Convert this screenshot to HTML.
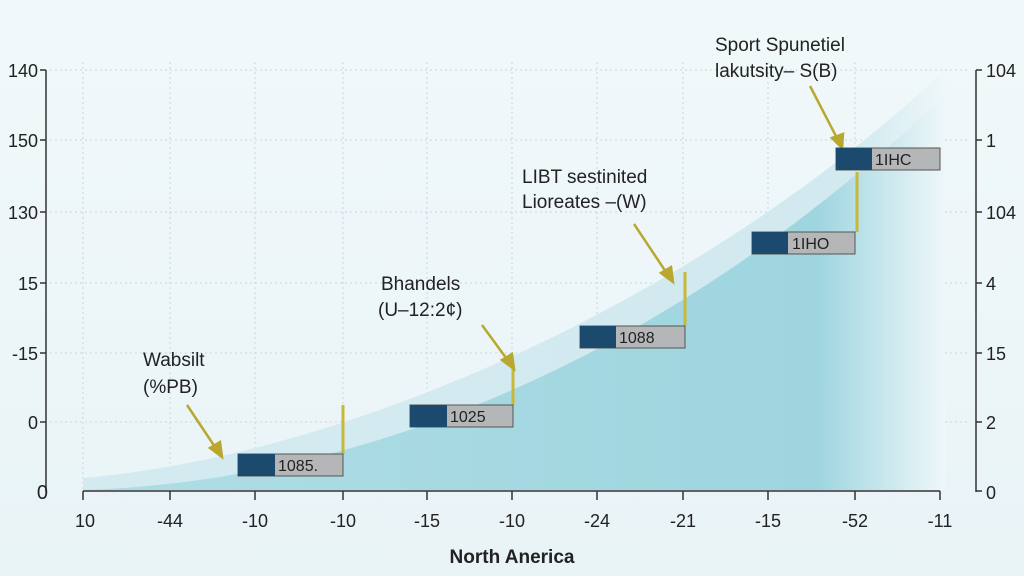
<!DOCTYPE html>
<html><head><style>body{margin:0;background:#eef6f8}svg{display:block}</style></head>
<body>
<svg width="1024" height="576" viewBox="0 0 1024 576" font-family="Liberation Sans, sans-serif">
<defs>
<linearGradient id="bg" x1="0" y1="0" x2="0" y2="1"><stop offset="0" stop-color="#f1f8fa"/><stop offset="1" stop-color="#e9f4f7"/></linearGradient>
<linearGradient id="fade" x1="0" y1="0" x2="1" y2="0"><stop offset="0" stop-color="#b0dde5"/><stop offset="0.85" stop-color="#9ed5df"/><stop offset="1" stop-color="#eef7f9"/></linearGradient>
<linearGradient id="fade2" x1="0" y1="0" x2="1" y2="0"><stop offset="0" stop-color="#d3ebf0"/><stop offset="0.9" stop-color="#d2eaef"/><stop offset="1" stop-color="#eef7f9"/></linearGradient>
</defs>
<rect width="1024" height="576" fill="url(#bg)"/>
<g stroke="#c9d6dc" stroke-dasharray="2 3" stroke-width="1">
<line x1="83" y1="62" x2="83" y2="490"/><line x1="170" y1="62" x2="170" y2="490"/><line x1="255" y1="62" x2="255" y2="490"/><line x1="343" y1="62" x2="343" y2="490"/><line x1="427" y1="62" x2="427" y2="490"/><line x1="512" y1="62" x2="512" y2="490"/><line x1="597" y1="62" x2="597" y2="490"/><line x1="683" y1="62" x2="683" y2="490"/><line x1="768" y1="62" x2="768" y2="490"/><line x1="855" y1="62" x2="855" y2="490"/>
<line x1="50" y1="70" x2="970" y2="70"/><line x1="50" y1="140" x2="970" y2="140"/><line x1="50" y1="212" x2="970" y2="212"/><line x1="50" y1="283" x2="970" y2="283"/><line x1="50" y1="353" x2="970" y2="353"/><line x1="50" y1="422" x2="970" y2="422"/>
</g>
<path d="M83 478 C 350 455, 700 300, 945 70 L 945 490 L 83 490 Z" fill="url(#fade2)"/>
<path d="M83 490 C 400 480, 700 330, 945 95 L 945 490 Z" fill="url(#fade)"/>
<g stroke="#333" stroke-width="1.5" fill="none">
<line x1="46" y1="70" x2="46" y2="492"/>
<line x1="40" y1="70" x2="46" y2="70"/><line x1="40" y1="140" x2="46" y2="140"/><line x1="40" y1="212" x2="46" y2="212"/><line x1="40" y1="283" x2="46" y2="283"/><line x1="40" y1="353" x2="46" y2="353"/><line x1="40" y1="422" x2="46" y2="422"/>
<line x1="83" y1="491" x2="940" y2="491"/>
<line x1="83" y1="491" x2="83" y2="500"/><line x1="170" y1="491" x2="170" y2="500"/><line x1="255" y1="491" x2="255" y2="500"/><line x1="343" y1="491" x2="343" y2="500"/><line x1="427" y1="491" x2="427" y2="500"/><line x1="512" y1="491" x2="512" y2="500"/><line x1="597" y1="491" x2="597" y2="500"/><line x1="683" y1="491" x2="683" y2="500"/><line x1="768" y1="491" x2="768" y2="500"/><line x1="855" y1="491" x2="855" y2="500"/><line x1="940" y1="491" x2="940" y2="500"/>
<line x1="976" y1="70" x2="976" y2="492"/>
<line x1="976" y1="70" x2="982" y2="70"/><line x1="976" y1="140" x2="982" y2="140"/><line x1="976" y1="212" x2="982" y2="212"/><line x1="976" y1="283" x2="982" y2="283"/><line x1="976" y1="353" x2="982" y2="353"/><line x1="976" y1="422" x2="982" y2="422"/><line x1="976" y1="491" x2="982" y2="491"/>
</g>
<g font-size="18" fill="#222" text-anchor="end">
<text x="38" y="77">140</text><text x="38" y="147">150</text><text x="38" y="219">130</text><text x="38" y="290">15</text><text x="38" y="360">-15</text><text x="38" y="429">0</text><text x="48" y="499" font-size="20">0</text>
</g>
<g font-size="18" fill="#222">
<text x="986" y="77">104</text><text x="986" y="147">1</text><text x="986" y="219">104</text><text x="986" y="290">4</text><text x="986" y="360">15</text><text x="986" y="429">2</text><text x="986" y="499">0</text>
</g>
<g font-size="18" fill="#222" text-anchor="middle">
<text x="85" y="527">10</text><text x="170" y="527">-44</text><text x="255" y="527">-10</text><text x="343" y="527">-10</text><text x="427" y="527">-15</text><text x="512" y="527">-10</text><text x="597" y="527">-24</text><text x="683" y="527">-21</text><text x="768" y="527">-15</text><text x="855" y="527">-52</text><text x="940" y="527">-11</text>
</g>
<text x="512" y="563" font-size="19" font-weight="bold" fill="#222" text-anchor="middle">North Anerica</text>
<g stroke="#c8b83a" stroke-width="3" fill="none">
<line x1="343" y1="405" x2="343" y2="454"/><line x1="513" y1="368" x2="513" y2="405"/><line x1="685" y1="272" x2="685" y2="326"/><line x1="857" y1="172" x2="857" y2="232"/>
</g>
<g stroke="#b8a830" stroke-width="2.5" fill="#b8a830">
<line x1="187" y1="405" x2="217" y2="450"/><polygon points="222,457 210,448 220,442"/>
<line x1="482" y1="325" x2="509" y2="362"/><polygon points="514,369 502,360 512,354"/>
<line x1="634" y1="224" x2="668" y2="275"/><polygon points="673,282 661,273 671,267"/>
<line x1="810" y1="86" x2="838" y2="140"/><polygon points="842,148 832,138 843,134"/>
</g>
<g font-size="16" fill="#222">
<rect x="238" y="454" width="105" height="22" fill="#b4b6b8" stroke="#555"/><rect x="238" y="454" width="37" height="22" fill="#1c4a6e"/><text x="278" y="471">1085.</text>
<rect x="410" y="405" width="103" height="22" fill="#b4b6b8" stroke="#555"/><rect x="410" y="405" width="37" height="22" fill="#1c4a6e"/><text x="450" y="422">1025</text>
<rect x="580" y="326" width="105" height="22" fill="#b4b6b8" stroke="#555"/><rect x="580" y="326" width="36" height="22" fill="#1c4a6e"/><text x="619" y="343">1088</text>
<rect x="752" y="232" width="103" height="22" fill="#b4b6b8" stroke="#555"/><rect x="752" y="232" width="36" height="22" fill="#1c4a6e"/><text x="792" y="249">1IHO</text>
<rect x="836" y="148" width="104" height="22" fill="#b4b6b8" stroke="#555"/><rect x="836" y="148" width="36" height="22" fill="#1c4a6e"/><text x="875" y="165">1IHC</text>
</g>
<g font-size="19" fill="#222">
<text x="143" y="366">Wabsilt</text><text x="143" y="393">(%PB)</text>
<text x="381" y="290">Bhandels</text><text x="378" y="316">(U–12:2¢)</text>
<text x="522" y="183">LIBT sestinited</text><text x="522" y="208">Lioreates –(W)</text>
<text x="715" y="51">Sport Spunetiel</text><text x="715" y="77">lakutsity– S(B)</text>
</g>
</svg>
</body></html>
